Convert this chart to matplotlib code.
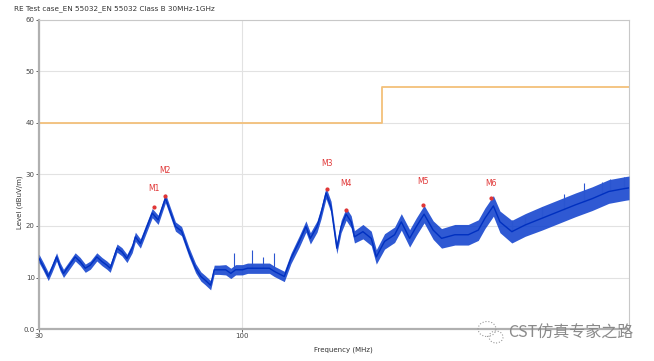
import matplotlib
matplotlib.use('Agg')
import matplotlib.pyplot as plt
from matplotlib.patches import Ellipse
import numpy as np

freq = [30, 30.8, 31.7, 32.4, 33.3, 34.0, 34.7, 35.7, 37.2, 38.3, 39.5, 40.7,
        42.3, 43.6, 44.9, 45.8, 47.7, 49.1, 50.6, 52.2, 53.2, 54.8,
        58.8, 60.9, 63.6, 67.5, 70.0, 73.1, 76.1, 78.5, 80.5, 83.2, 85.0, 87.5,
        91.0, 93.8, 96.5, 100.5, 103.6, 108.0, 113.3, 118.0, 121.4, 128.9,
        134.1, 140.9, 146.6, 150.5, 156.6, 160.4, 165.2,
        170.2, 176.1, 180.7, 186.2, 191.8, 195.6, 205.7, 216.1, 222.7, 233.9,
        248.3, 258.4, 271.5, 282.6, 295.9, 312.3, 328.2, 355.2, 384.7, 408.3,
        424.8, 446.6, 464.5, 498.3, 539.5, 595.9, 658.2, 726.8, 802.9, 886.8,
        979.1, 1000]
level = [13.7, 12.1, 10.2, 11.8, 14.0, 12.1, 10.8, 12.1, 14.0, 13.1, 11.8, 12.4,
         14.0, 13.1, 12.4, 11.8, 15.7, 15.0, 13.7, 15.7, 17.9, 16.6,
         22.5, 21.2, 25.4, 19.9, 19.0, 15.0, 11.8, 10.2, 9.5, 8.5, 11.5, 11.5,
         11.5, 10.8, 11.5, 11.5, 11.8, 11.8, 11.8, 11.8, 11.2, 10.2,
         13.7, 17.0, 19.9, 17.6, 19.9, 22.5, 26.4,
         23.7, 15.7, 19.9, 22.3, 20.8, 17.9, 18.9, 17.6, 14.0, 17.0,
         18.3, 20.8, 17.6, 19.9, 22.3, 19.2, 17.6, 18.3, 18.3, 19.2,
         21.5, 23.9, 20.8, 18.9, 20.2, 21.5, 22.8, 24.1, 25.3, 26.7,
         27.3, 27.4]
spread = [0.8, 0.8, 0.8, 0.8, 0.8, 0.8, 0.8, 0.8, 0.8, 0.8, 0.8, 0.8,
          0.8, 0.8, 0.8, 0.8, 0.8, 0.8, 0.8, 0.9, 0.9, 0.9,
          0.9, 0.9, 0.9, 0.9, 0.9, 0.9, 0.9, 0.9, 0.9, 0.9, 0.9, 0.9,
          1.0, 1.0, 1.0, 1.0, 1.0, 1.0, 1.0, 1.0, 1.0, 1.0,
          1.0, 1.1, 1.1, 1.1, 1.1, 1.1, 1.1,
          1.1, 1.1, 1.2, 1.2, 1.2, 1.2, 1.4, 1.4, 1.4, 1.5,
          1.5, 1.6, 1.7, 1.7, 1.7, 1.8, 1.9, 2.0, 2.0, 2.0,
          2.0, 2.0, 2.1, 2.2, 2.2, 2.3, 2.3, 2.3, 2.3, 2.3,
          2.3, 2.3]

# narrow spikes above the trace (MHz, peak dBuV/m)
spike_f = [95.6, 106.7, 113.3, 121.4, 498.3, 539.5, 595.9, 678, 764, 852, 895, 970]
spike_l = [14.7, 15.3, 14.0, 14.7, 21.2, 21.8, 23.7, 26.3, 28.3, 28.6, 29.2, 29.6]

# EN 55032 class B limit
limit_f = [30, 230, 230, 1000]
limit_l = [40, 40, 47, 47]

# markers
mk_names = ['M1', 'M2', 'M3', 'M4', 'M5', 'M6']
mk_f = [59.3, 63.5, 166, 186, 294, 440]
mk_l = [23.7, 25.8, 27.2, 23.1, 24.0, 25.4]
mk_lab = [27.2, 30.7, 32.2, 28.2, 28.7, 28.3]

fig = plt.figure(figsize=(6.54, 3.61), dpi=100)
ax = fig.add_axes([39/654, 1-329/361, 590/654, 309/361])

lo = np.array(level) - np.array(spread)
hi = np.array(level) + np.array(spread)
ax.fill_between(freq, lo, hi, color='#0a3ccc', lw=0, alpha=0.85, zorder=3)
ax.plot(freq, level, color='#0030c0', lw=1.0, zorder=4)
ax.vlines(spike_f, np.interp(np.log(spike_f), np.log(freq), level), spike_l,
          color='#2a55d0', lw=0.8, zorder=3)
ax.plot(limit_f, limit_l, color='#f3c07a', lw=1.3, zorder=2)

ax.plot(mk_f, mk_l, 'o', color='#e03535', ms=2, zorder=5)
for n, f, l in zip(mk_names, mk_f, mk_lab):
    ax.text(f, l, n, color='#e03535', fontsize=5.5, ha='center', va='center', zorder=5)

ax.set_xscale('log')
ax.set_xlim(30, 1000)
ax.set_ylim(0, 60)
ax.set_xticks([30, 100])
ax.set_xticklabels(['30', '100'])
ax.minorticks_off()
ax.set_yticks([0, 10, 20, 30, 40, 50, 60])
ax.set_yticklabels(['0.0', '10', '20', '30', '40', '50', '60'])
ax.tick_params(labelsize=5, colors='#444444', length=2, width=0.6, pad=1)
ax.grid(True, color='#e2e2e2', lw=0.8, zorder=0)
for s in ['left', 'bottom']:
    ax.spines[s].set_color('#b0b0b0')
    ax.spines[s].set_linewidth(1.6)
for s in ['top', 'right']:
    ax.spines[s].set_color('#c8c8c8')
    ax.spines[s].set_linewidth(0.8)

fig.text(14/654, 1-9/361, 'RE Test case_EN 55032_EN 55032 Class B 30MHz-1GHz',
         fontsize=5.2, color='#333333', va='center', ha='left')
fig.text(20/654, 1-202/361, 'Level (dBuV/m)', fontsize=5, rotation=90,
         color='#333333', va='center', ha='center')
fig.text(343/654, 1-350/361, 'Frequency (MHz)', fontsize=5, color='#333333',
         va='center', ha='center')

# watermark
fig.text(508/654, 1-333/361, 'CST仿真专家之路', fontsize=11.5, color='#8a8a8a',
         va='center', ha='left', family=['Noto Sans CJK SC', 'DejaVu Sans'])
fig.patches.append(Ellipse((487/654, 1-329/361), 18/654, 15/361, fill=False,
                           ec='#9a9a9a', lw=0.8, ls=':', transform=fig.transFigure))
fig.patches.append(Ellipse((496/654, 1-337/361), 14/654, 12/361, fill=False,
                           ec='#9a9a9a', lw=0.8, ls=':', transform=fig.transFigure))

fig.savefig('out.png', dpi=100)
